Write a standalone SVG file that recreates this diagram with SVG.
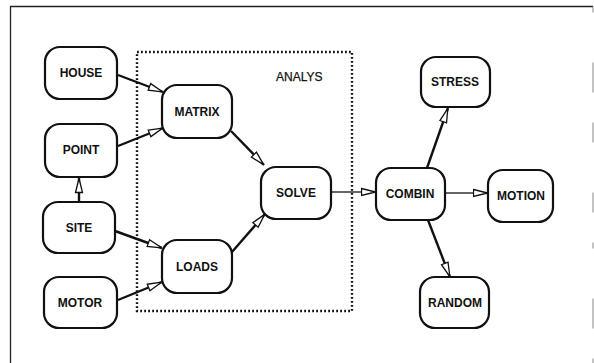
<svg xmlns="http://www.w3.org/2000/svg" width="594" height="363" viewBox="0 0 594 363">
<defs>
<style>
.node rect{fill:#fff;stroke:#111;stroke-width:2.2}
.node text{font-family:"Liberation Sans",Arial,sans-serif;font-size:12px;font-weight:bold;fill:#111;text-anchor:middle}
.c{stroke:#111;stroke-width:2.4;fill:none;marker-end:url(#ah)}
.thin{stroke:#333;stroke-width:1.4}
</style>
<marker id="ah" viewBox="0 0 16 10" refX="15.5" refY="5" markerWidth="16" markerHeight="10" markerUnits="userSpaceOnUse" orient="auto">
<path d="M1,1.5 L15,5 L1,8.5 Z" fill="#fff" stroke="#111" stroke-width="1.3"/>
</marker>
</defs>
<rect width="594" height="363" fill="#fff"/>
<g id="frame" fill="none">
<path d="M10.5,363 V6.5 H593" stroke="#222" stroke-width="1.3"/>
<path d="M593,6.5 V363" stroke="#888" stroke-width="1" stroke-dasharray="6 50 30 30 20 50 20 30"/>
</g>
<g id="analys">
<rect x="137" y="52" width="215" height="259" fill="none" stroke="#111" stroke-width="2.4" stroke-dasharray="1.8 2.2"/>
<text x="276" y="81" font-family="Liberation Sans,Arial,sans-serif" font-size="12" font-weight="500" fill="#111" stroke="#111" stroke-width="0.25">ANALYS</text>
</g>
<g id="connectors">
<line class="c" x1="118" y1="75" x2="163" y2="92"/>
<line class="c" x1="118" y1="146" x2="163" y2="128"/>
<line class="c" x1="79" y1="202" x2="79" y2="178"/>
<line class="c" x1="115" y1="231" x2="162" y2="248"/>
<line class="c" x1="118" y1="300" x2="162" y2="282"/>
<line class="c" x1="231" y1="131" x2="264" y2="165"/>
<line class="c" x1="232" y1="252" x2="265" y2="214"/>
<line class="c thin" x1="331" y1="192" x2="376" y2="192"/>
<line class="c thin" x1="445" y1="193" x2="488" y2="193"/>
<line class="c" x1="427" y1="168" x2="448" y2="108"/>
<line class="c" x1="428" y1="220" x2="450" y2="277"/>
</g>
<g id="HOUSE" class="node"><rect x="45" y="47" width="72" height="52" rx="15"/><text x="81" y="77">HOUSE</text></g>
<g id="POINT" class="node"><rect x="45" y="124" width="72" height="53" rx="15"/><text x="81" y="154">POINT</text></g>
<g id="SITE" class="node"><rect x="43" y="202" width="72" height="51" rx="15"/><text x="79" y="232">SITE</text></g>
<g id="MOTOR" class="node"><rect x="44" y="277" width="73" height="51" rx="15"/><text x="80" y="307">MOTOR</text></g>
<g id="MATRIX" class="node"><rect x="162" y="85" width="70" height="53" rx="15"/><text x="197" y="116">MATRIX</text></g>
<g id="LOADS" class="node"><rect x="162" y="240" width="70" height="53" rx="15"/><text x="197" y="271">LOADS</text></g>
<g id="SOLVE" class="node"><rect x="261" y="167" width="70" height="52" rx="15"/><text x="296" y="197">SOLVE</text></g>
<g id="COMBIN" class="node"><rect x="376" y="168" width="69" height="52" rx="15"/><text x="410" y="198">COMBIN</text></g>
<g id="STRESS" class="node"><rect x="421" y="57" width="69" height="50" rx="15"/><text x="455" y="86">STRESS</text></g>
<g id="MOTION" class="node"><rect x="488" y="170" width="65" height="52" rx="15"/><text x="521" y="200">MOTION</text></g>
<g id="RANDOM" class="node"><rect x="420" y="277" width="69" height="51" rx="15"/><text x="455" y="307">RANDOM</text></g>
</svg>
